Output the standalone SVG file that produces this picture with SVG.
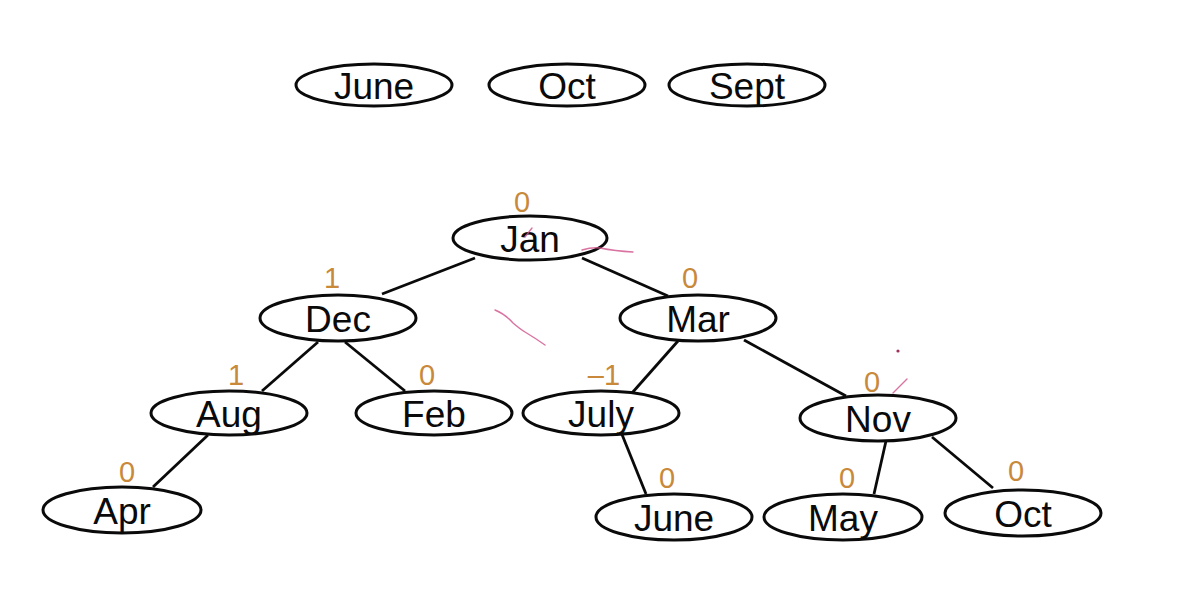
<svg xmlns="http://www.w3.org/2000/svg" width="1192" height="596" viewBox="0 0 1192 596">
<style>
.n ellipse{fill:#fff;stroke:#0a0a0a;stroke-width:3}
.n text{font-family:"Liberation Sans",Arial,sans-serif;font-size:37px;fill:#0a0a0a;text-anchor:middle}
.b{font-family:"Liberation Sans",Arial,sans-serif;font-size:29px;fill:#c8893a;text-anchor:middle}
.e line{stroke:#0a0a0a;stroke-width:2.8}
.pk{fill:none;stroke:#d0508a;stroke-width:1.4;stroke-linecap:round;opacity:0.8}
</style>
<rect width="1192" height="596" fill="#fff"/>
<g id="connectors" class="e">
<line x1="475" y1="258" x2="382" y2="294"/>
<line x1="582" y1="258" x2="668" y2="296"/>
<line x1="318" y1="342" x2="262" y2="391"/>
<line x1="345" y1="342" x2="405" y2="391"/>
<line x1="678" y1="341" x2="632" y2="393"/>
<line x1="744" y1="340" x2="846" y2="396"/>
<line x1="208" y1="435" x2="153" y2="487"/>
<line x1="621" y1="432" x2="646" y2="494"/>
<line x1="886" y1="441" x2="874" y2="494"/>
<line x1="932" y1="437" x2="993" y2="488"/>
</g>
<g id="q-june" class="n"><ellipse cx="374" cy="85" rx="78" ry="21"/><text x="374" y="99">June</text></g>
<g id="q-oct" class="n"><ellipse cx="567" cy="85" rx="78" ry="21"/><text x="567" y="99">Oct</text></g>
<g id="q-sept" class="n"><ellipse cx="747" cy="85" rx="78" ry="21"/><text x="747" y="99">Sept</text></g>
<g id="jan" class="n"><ellipse cx="530" cy="238" rx="77" ry="22"/><text x="530" y="252">Jan</text></g>
<g id="dec" class="n"><ellipse cx="338" cy="318" rx="78" ry="23"/><text x="338" y="332">Dec</text></g>
<g id="mar" class="n"><ellipse cx="698" cy="318" rx="78" ry="23"/><text x="698" y="332">Mar</text></g>
<g id="aug" class="n"><ellipse cx="229" cy="413" rx="78" ry="22"/><text x="229" y="427">Aug</text></g>
<g id="feb" class="n"><ellipse cx="434" cy="413" rx="78" ry="22"/><text x="434" y="427">Feb</text></g>
<g id="july" class="n"><ellipse cx="601" cy="413" rx="78" ry="22"/><text x="601" y="427">July</text></g>
<g id="nov" class="n"><ellipse cx="878" cy="418" rx="78" ry="23"/><text x="878" y="432">Nov</text></g>
<g id="apr" class="n"><ellipse cx="122" cy="510" rx="79" ry="23"/><text x="122" y="524">Apr</text></g>
<g id="june" class="n"><ellipse cx="674" cy="517" rx="78" ry="23"/><text x="674" y="531">June</text></g>
<g id="may" class="n"><ellipse cx="843" cy="517" rx="79" ry="23"/><text x="843" y="531">May</text></g>
<g id="oct" class="n"><ellipse cx="1023" cy="513" rx="78" ry="23"/><text x="1023" y="527">Oct</text></g>
<g id="balances">
<text class="b" x="522" y="212">0</text>
<text class="b" x="332" y="288">1</text>
<text class="b" x="690" y="288">0</text>
<text class="b" x="236" y="385">1</text>
<text class="b" x="427" y="385">0</text>
<text class="b" x="604" y="385">–1</text>
<text class="b" x="872" y="392">0</text>
<text class="b" x="127" y="482">0</text>
<text class="b" x="667" y="488">0</text>
<text class="b" x="847" y="488">0</text>
<text class="b" x="1016" y="481">0</text>
</g>
<g id="pen-marks">
<path class="pk" d="M525 237 L532 228"/>
<path class="pk" d="M582 250 Q592 247 600 248 Q615 251 633 252"/>
<path class="pk" d="M495 310 Q505 314 513 323 Q520 329 525 332 Q535 338 545 345"/>
<circle cx="898" cy="351" r="1.6" fill="#a0305a"/>
<path class="pk" d="M893 393 L907 379"/>
</g>
</svg>
